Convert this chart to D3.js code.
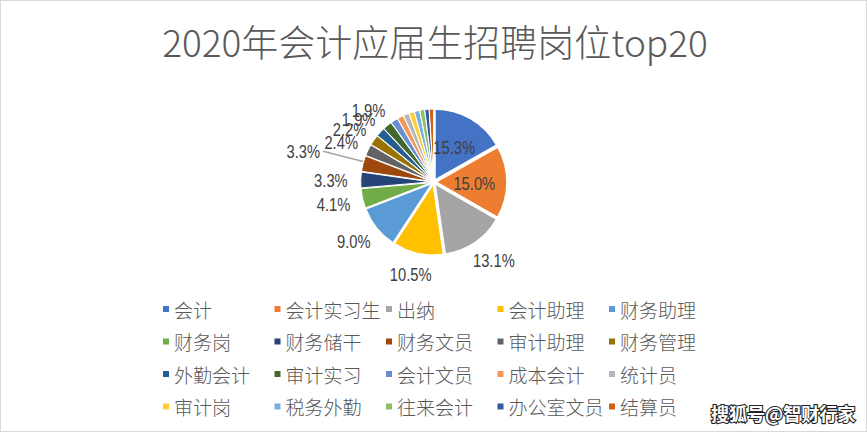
<!DOCTYPE html>
<html><head><meta charset="utf-8">
<script src="https://cdn.jsdelivr.net/npm/d3@7/dist/d3.min.js"></script>
<style>
html,body{margin:0;padding:0;background:#fff;}
svg{display:block;}
</style></head>
<body>
<svg id="chart" width="867" height="432"></svg>
<script>
// ---- data ----
const title = "2020年会计应届生招聘岗位top20";
const categories = ["会计","会计实习生","出纳","会计助理","财务助理","财务岗","财务储干","财务文员","审计助理","财务管理","外勤会计","审计实习","会计文员","成本会计","统计员","审计岗","税务外勤","往来会计","办公室文员","结算员"];
const values = [15.3,15.0,13.1,10.5,9.0,4.1,3.3,3.3,2.4,2.2,1.9,1.9,1.5,1.3,1.2,1.1,1.1,1.0,0.9,0.9];
const colors = ["#4472C4","#ED7D31","#A5A5A5","#FFC000","#5B9BD5","#70AD47","#264478","#9E480E","#636363","#997300","#255E91","#43682B","#698ED0","#F1975A","#B7B7B7","#FFCD33","#7CAFDD","#8CC168","#335AA1","#D26012"];
const watermark = "搜狐号@智财行家";

// ---- layout ----
const W = 867, H = 432;
const cx = 433.7, cy = 182, R = 70, explode = 3;
const numFont = "'Liberation Sans',Arial,sans-serif";
const cjkFont = "'Noto Sans CJK SC',sans-serif";
const narrow = 0.82;

const svg = d3.select("#chart");
svg.append("rect").attr("x",0.5).attr("y",0.5).attr("width",W-1).attr("height",H-1)
  .attr("fill","#fff").attr("stroke","#d9d9d9");

svg.append("text").attr("x",435).attr("y",57).attr("text-anchor","middle")
  .attr("font-family",cjkFont).attr("font-size",37).attr("font-weight",300).attr("fill","#595959")
  .text(title);

const data = categories.map((c,i)=>({name:c, value:values[i], color:colors[i]}));
const pie = d3.pie().sort(null).value(d=>d.value);
const arcs = pie(data);
const arc = d3.arc().innerRadius(0).outerRadius(R);

const g = svg.append("g").attr("transform",`translate(${cx},${cy})`);
arcs.forEach(a=>{ a.mid=(a.startAngle+a.endAngle)/2; });
g.selectAll("path.slice").data(arcs).enter().append("path")
  .attr("class","slice")
  .attr("d",arc)
  .attr("fill",d=>d.data.color)
  .attr("stroke","#fff").attr("stroke-width",1)
  .attr("transform",d=>`translate(${Math.sin(d.mid)*explode},${-Math.cos(d.mid)*explode})`);

// data labels
const fmt = d3.format(".1f");
const labelFrom = 1.9; // smaller slices carry no label
const insideFrom = 15;
const pushed = new Set(["财务文员"]);
const lg = svg.append("g").attr("transform",`translate(${cx},${cy})`);
arcs.filter(a=>a.data.value>=labelFrom).forEach(a=>{
  const t = lg.append("text").attr("font-family",numFont).attr("font-size",18)
    .attr("fill","#404040").attr("text-anchor","middle").attr("dominant-baseline","central")
    .text(fmt(a.data.value)+"%");
  const s = Math.sin(a.mid), c = -Math.cos(a.mid);
  let x,y;
  const hw = t.node().getComputedTextLength()*narrow/2, hh = 7.5;
  if (a.data.value>=insideFrom){
    const r = R*0.58;
    x = s*r; y = c*r;
  } else {
    const gap = pushed.has(a.data.name) ? 45 : 13;
    const r = R+explode+gap;
    x = s*r + s*hw; y = c*r + c*hh;
    if (pushed.has(a.data.name)){
      lg.append("line").attr("x1",x+hw+3).attr("y1",y+1)
        .attr("x2",s*(R+explode)).attr("y2",c*(R+explode)-2)
        .attr("stroke","#a6a6a6").attr("stroke-width",1.5);
    }
  }
  t.attr("transform",`translate(${x},${y+1}) scale(${narrow},1)`);
});

// legend
const cols = 5, colX0 = 163, colStep = 111.5, rowY0 = 309, rowStep = 32.5;
const leg = svg.append("g");
data.forEach((d,i)=>{
  const col = i%cols, row = Math.floor(i/cols);
  const x = colX0 + col*colStep, y = rowY0 + row*rowStep;
  leg.append("rect").attr("x",x).attr("y",y-3).attr("width",6).attr("height",6).attr("fill",d.color);
  leg.append("text").attr("x",x+11).attr("y",y).attr("dominant-baseline","central")
    .attr("font-family",cjkFont).attr("font-size",19).attr("font-weight",300).attr("fill","#595959").text(d.name);
});

// watermark
svg.append("text").attr("x",711).attr("y",421)
  .attr("font-family",cjkFont).attr("font-size",18).attr("font-weight",700)
  .attr("fill","#fff").attr("stroke","#222").attr("stroke-width",2.2).attr("paint-order","stroke")
  .text(watermark);
</script>
</body></html>
